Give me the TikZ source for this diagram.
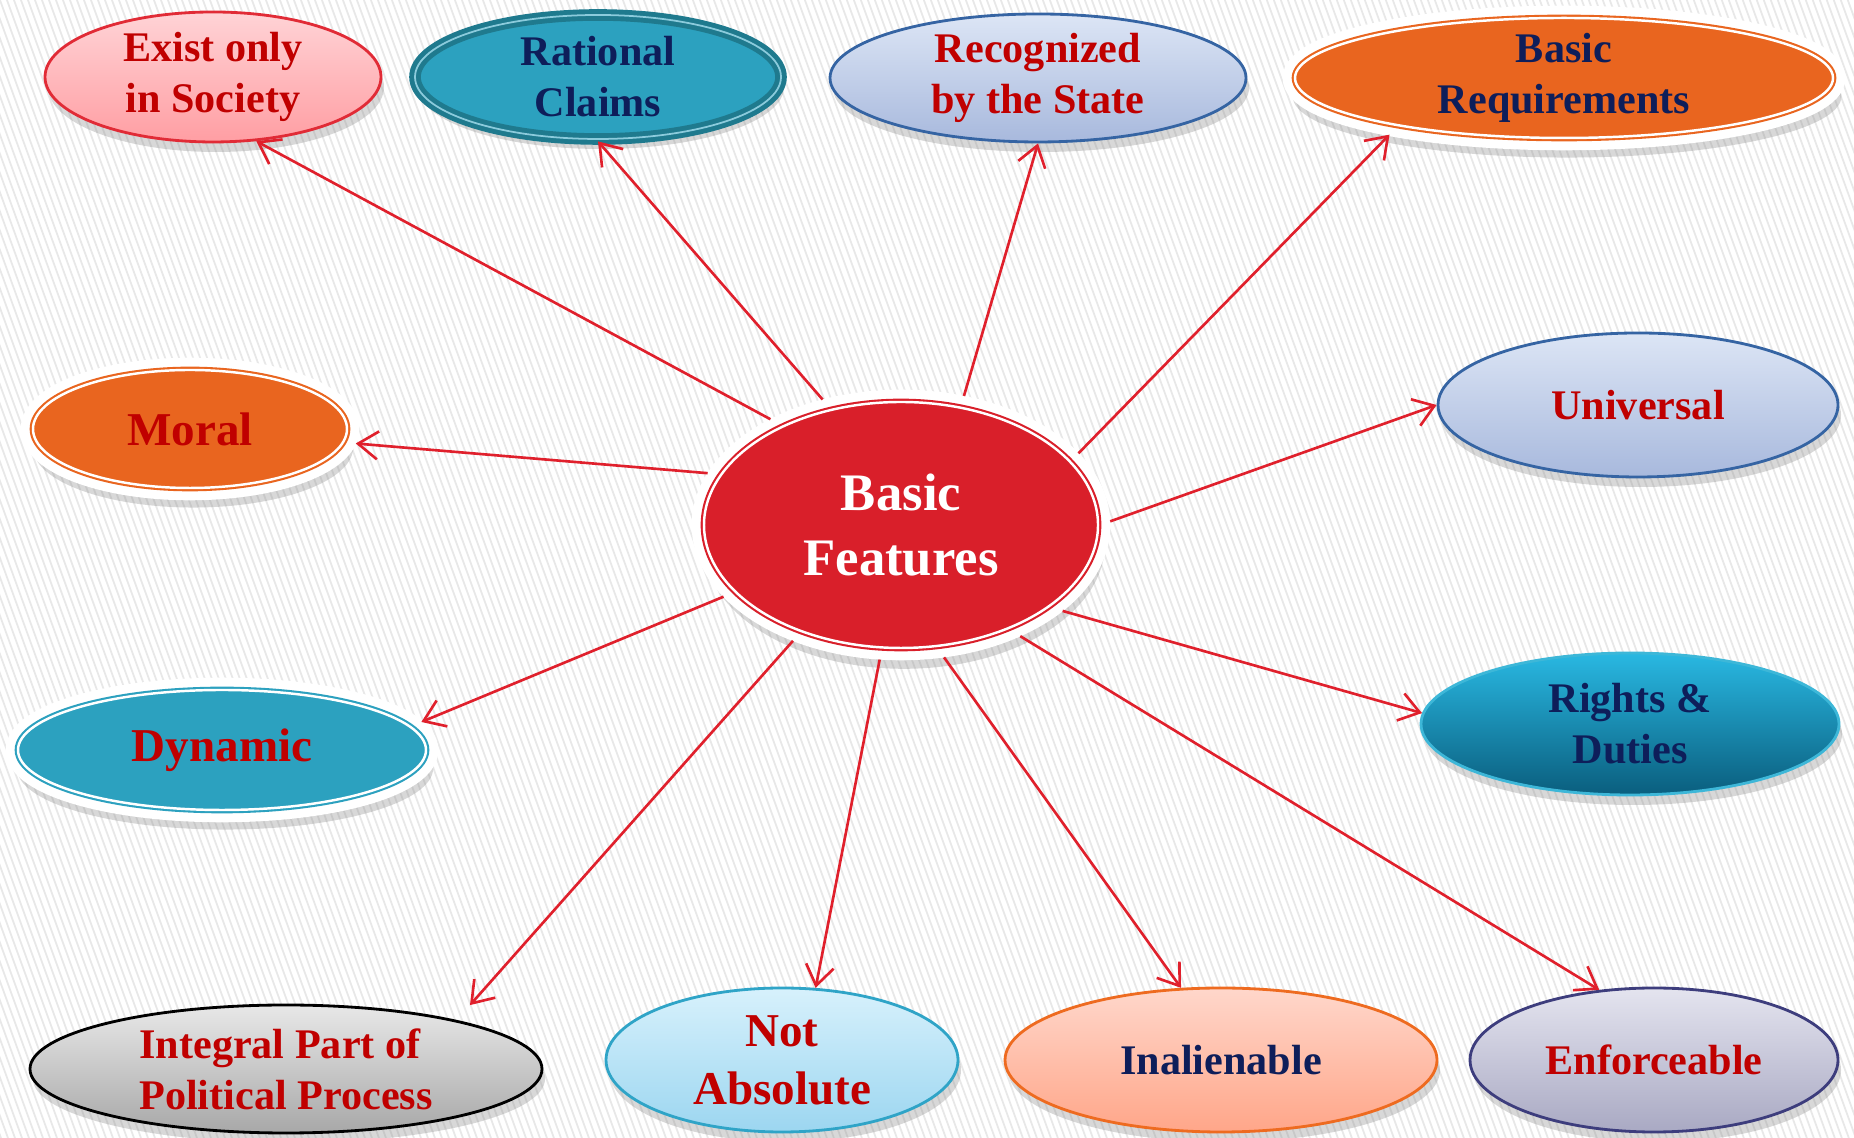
\documentclass[tikz,border=0pt]{standalone}
\usepackage{fontspec}
\setmainfont{Liberation Serif}
\usetikzlibrary{shapes.geometric, arrows.meta, shadows}

\definecolor{arrowred}{HTML}{E0202C}
\definecolor{txtred}{HTML}{C00000}
\definecolor{txtnavy}{HTML}{0E1E5A}
\definecolor{corered}{HTML}{D91F2A}
\definecolor{orangefill}{HTML}{E9651F}
\definecolor{tealfill}{HTML}{2CA1BF}
\definecolor{tealdark}{HTML}{1F7A8E}
\definecolor{stripe}{HTML}{E8E8E8}
\definecolor{pinktop}{HTML}{FFD3D6}
\definecolor{pinkbottom}{HTML}{FF9EA3}
\definecolor{pinkline}{HTML}{E12B36}
\definecolor{paleblue}{HTML}{DCE5F5}
\definecolor{midblue}{HTML}{A8B9DD}
\definecolor{steelline}{HTML}{3564A3}
\definecolor{cyantop}{HTML}{29B8E2}
\definecolor{cyanbottom}{HTML}{0A5E7E}
\definecolor{cyanline}{HTML}{3DB7D8}
\definecolor{greytop}{HTML}{E8E8E8}
\definecolor{greybottom}{HTML}{A8A8A8}
\definecolor{skytop}{HTML}{D7F1FC}
\definecolor{skybottom}{HTML}{9CD6F0}
\definecolor{skyline}{HTML}{2FA4C7}
\definecolor{peachtop}{HTML}{FFD7CB}
\definecolor{peachbottom}{HTML}{FFA689}
\definecolor{peachline}{HTML}{EE6B20}
\definecolor{lilactop}{HTML}{E4E4EF}
\definecolor{lilacbottom}{HTML}{A9A9C3}
\definecolor{lilacline}{HTML}{3D3D7D}

\begin{document}
\begin{tikzpicture}[
    >={Straight Barb[length=2mm,width=2.8mm]},
    feature/.style={ellipse, inner sep=-3mm, align=center,
        font=\bfseries\fontsize{12}{14.5}\selectfont},
    bigtext/.style={font=\bfseries\fontsize{13.4}{16.5}\selectfont},
    soft/.style={drop shadow={opacity=0.3, shadow xshift=0.3mm, shadow yshift=-1mm}},
    ringed/.style={feature,
        drop shadow={opacity=0.3, shadow xshift=0.3mm, shadow yshift=-1.8mm, shadow scale=1.02},
        preaction={draw=white, line width=7pt},
        fill=#1, draw=#1, line width=0.6pt, double=white, double distance=0.7pt,
        outer sep=3.5pt},
    glossy/.style n args={3}{feature, soft, top color=#1, bottom color=#2,
        draw=#3, line width=0.8pt},
    link/.style={color=arrowred, line width=0.75pt}
]
    % striped backdrop
    \fill[white] (0,0) rectangle (18.54,11.38);
    \begin{scope}
        \clip (0,0) rectangle (18.54,11.38);
        \foreach \x in {-4.2,-4.13,...,18.6}
            \draw[stripe, line width=0.5pt] (\x,11.38) -- ++(4.14,-11.38);
    \end{scope}
    \useasboundingbox (0,0) rectangle (18.54,11.38);

    % centre and the twelve features
    \node[ringed=corered, text=white, font=\bfseries\fontsize{15}{18.5}\selectfont,
          minimum width=3.94cm, minimum height=2.46cm] (core) at (9.01,6.13) {Basic\\Features};

    \node[glossy={pinktop}{pinkbottom}{pinkline}, text=txtred,
          minimum width=3.36cm, minimum height=1.30cm] (exist) at (2.13,10.61) {Exist only\\in Society};
    \node[feature, soft, fill=tealfill, draw=tealdark, line width=1.4pt,
          double=tealfill!55!white, double distance=0.5pt, text=txtnavy,
          minimum width=3.66cm, minimum height=1.24cm] (claims) at (5.98,10.61) {Rational\\Claims};
    \node[glossy={paleblue}{midblue}{steelline}, text=txtred,
          minimum width=4.16cm, minimum height=1.28cm] (state) at (10.38,10.60) {Recognized\\by the State};
    \node[ringed=orangefill, text=txtnavy,
          minimum width=5.38cm, minimum height=1.20cm] (needs) at (15.64,10.60) {Basic\\Requirements};
    \node[ringed=orangefill, bigtext, text=txtred,
          minimum width=3.14cm, minimum height=1.18cm] (moral) at (1.90,7.09) {Moral};
    \node[glossy={paleblue}{midblue}{steelline}, text=txtred,
          minimum width=4.00cm, minimum height=1.44cm] (universal) at (16.38,7.33) {Universal};
    \node[ringed=tealfill, bigtext, text=txtred,
          minimum width=4.08cm, minimum height=1.20cm] (dynamic) at (2.22,3.88) {Dynamic};
    \node[glossy={cyantop}{cyanbottom}{cyanline}, text=txtnavy,
          minimum width=4.18cm, minimum height=1.42cm] (duties) at (16.30,4.14) {Rights \&\\Duties};
    \node[glossy={greytop}{greybottom}{black}, text=txtred, align=left,
          minimum width=5.12cm, minimum height=1.28cm] (political) at (2.86,0.69) {Integral Part of\\Political Process};
    \node[glossy={skytop}{skybottom}{skyline}, bigtext, text=txtred,
          minimum width=3.52cm, minimum height=1.44cm] (relative) at (7.82,0.78) {Not\\Absolute};
    \node[glossy={peachtop}{peachbottom}{peachline}, text=txtnavy,
          minimum width=4.32cm, minimum height=1.44cm] (inalienable) at (12.21,0.78) {Inalienable};
    \node[glossy={lilactop}{lilacbottom}{lilacline}, text=txtred,
          minimum width=3.68cm, minimum height=1.44cm] (enforce) at (16.54,0.78) {Enforceable};

    \path[->, link]
        (core.141) edge (exist.304)
        (core.122) edge (claims.270)
        (core.64)  edge (state.270)
        (core.22)  edge (needs.198)
        (core.1)   edge (universal.180)
        (core.165) edge (moral.355)
        (core.202) edge (dynamic.8)
        (core.332) edge (duties.177)
        (core.227) edge[shorten >=2mm] (political.16)
        (core.261) edge (relative.65)
        (core.288) edge (inalienable.119)
        (core.317) edge (enforce.128);
\end{tikzpicture}
\end{document}
